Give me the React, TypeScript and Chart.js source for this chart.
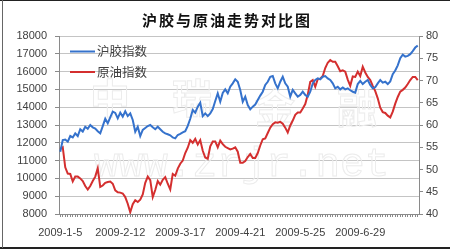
import React, { useEffect, useRef } from "react";
import { Chart, registerables } from "chart.js";

Chart.register(...registerables);

const chartTitle = "沪胶与原油走势对比图";
const seriesNames = ["沪胶指数", "原油指数"];
const seriesColors = ["#3572CC", "#D42F2F"];
const tickLabels = ["2009-1-5", "2009-2-12", "2009-3-17", "2009-4-21", "2009-5-25", "2009-6-29"];
const labelEvery = 24;
const watermarkChars = ["中", "瑞", "金", "融"];
const watermarkUrl = "www.zrjr.net";

// 沪胶指数 (left axis)
const rubberIndex = [
  11500, 12150, 12180, 12060, 12380, 12300, 12530, 12380, 12760, 12630,
  12900, 12790, 13000, 12870, 12800, 12650, 12530, 12940, 13350, 13100,
  13430, 13750, 13680, 13370, 13690, 13470, 13770, 13500, 13650, 13280,
  12620, 12900, 12380, 12720, 12830, 12940, 13000, 12870, 12760, 12900,
  12760, 12620, 12530, 12480, 12420, 12300, 12250, 12440, 12500, 12580,
  12650, 12950, 13350, 13840, 13690, 14030, 14250, 13500, 13650, 13500,
  13650, 13900, 14350, 14780, 14310, 14800, 15000, 14780, 15150, 15340,
  15570, 15430, 14970, 14310, 14590, 14120, 13880, 14030, 14150, 14400,
  14650, 14870, 15250, 15430, 15710, 15750, 15340, 15060, 15430, 15710,
  15340, 15150, 14590, 14970, 14780, 14590, 14690, 14870, 14690, 14590,
  14870, 15340, 15530, 15620, 15570, 15710, 15750, 15620, 15530, 15340,
  15060, 15150, 15000, 15110, 15000, 15060, 14950, 14870, 14820, 15300,
  15480, 15300, 15430, 15530, 15250, 15060, 15120, 15340, 15530, 15380,
  15430, 15300, 15450, 15850, 16060, 16350, 16750, 16950, 16840, 16880,
  16980, 17150, 17350, 17460,
];

// 原油指数 (right axis)
const crudeIndex = [
  54.6, 55.0, 50.5, 49.1, 49.0, 47.3, 48.4, 48.4, 48.0, 47.4,
  46.3, 45.5, 46.3, 47.4, 48.4, 50.3, 46.1, 46.4, 47.0, 47.2,
  47.3, 46.8, 45.3, 44.9, 44.8, 44.6, 43.8, 42.3, 40.4, 42.2,
  43.1, 42.7, 43.2, 44.4, 47.0, 48.4, 47.6, 43.8, 45.4, 47.4,
  46.6, 47.7, 48.3, 46.8, 45.5, 49.0, 48.6, 50.2, 51.3, 52.0,
  53.7, 54.9, 56.6, 56.0, 56.9, 55.6, 56.6, 54.2, 52.7, 52.4,
  55.2, 56.3, 56.3, 55.0, 56.5, 55.7, 55.1, 54.8, 54.5, 54.7,
  55.0, 54.0, 51.5, 51.5, 51.9, 52.8, 53.5, 52.6, 52.6, 53.7,
  55.4, 56.8, 57.0, 58.2, 59.4, 60.2, 60.6, 60.5, 60.7, 60.3,
  59.4, 58.3, 59.9, 61.0, 62.3, 62.8, 62.8, 63.7, 64.7, 66.8,
  69.7, 70.1, 68.6, 70.3, 70.4, 71.0, 72.8, 74.0, 74.6, 74.2,
  74.2, 73.2, 72.1, 72.3, 72.0, 70.2, 68.8, 70.9, 70.8, 72.0,
  71.0, 73.1, 71.8, 70.8, 70.1, 68.8, 67.6, 66.0, 63.9, 62.9,
  62.7, 62.1, 61.7, 63.0, 64.8, 66.3, 67.5, 67.9, 68.4, 69.2,
  70.1, 70.8, 70.8, 70.1,
];

const leftMin = 8000;
const leftMax = 18000;
const leftStep = 1000;
const rightMin = 40;
const rightMax = 80;
const rightStep = 5;

const tickFont = { family: "'Liberation Sans', Arial, sans-serif", size: 11 };
const axisColor = "#8a8a8a";
const gridColor = "#c4c4c4";
const textColor = "#404040";

const decorPlugin = {
  id: "decor",
  beforeDatasetsDraw(chart: any) {
    const ctx = chart.ctx as CanvasRenderingContext2D;
    ctx.save();
    ctx.strokeStyle = "#ececec";
    ctx.lineWidth = 1;
    ctx.textAlign = "center";
    ctx.textBaseline = "middle";
    ctx.font = "bold 40px 'Noto Sans CJK SC'";
    const cx = [110, 192, 275, 357];
    const cy = [98, 98, 108, 108];
    watermarkChars.forEach((ch, i) => ctx.strokeText(ch, cx[i], cy[i]));
    ctx.font = "41px 'Liberation Mono', monospace";
    ctx.textAlign = "left";
    ctx.textBaseline = "alphabetic";
    ctx.strokeText(watermarkUrl, 94, 176);
    ctx.restore();
  },
  afterDraw(chart: any) {
    const ctx = chart.ctx as CanvasRenderingContext2D;
    ctx.save();
    // title
    ctx.fillStyle = "#111";
    ctx.font = "bold 15px 'Noto Sans CJK SC'";
    (ctx as any).letterSpacing = "2px";
    ctx.textAlign = "center";
    ctx.textBaseline = "middle";
    ctx.fillText(chartTitle, 227, 20);
    (ctx as any).letterSpacing = "0px";
    // legend
    ctx.font = "12.5px 'Noto Sans CJK SC'";
    ctx.textAlign = "left";
    seriesNames.forEach((name, i) => {
      const y = 51.5 + i * 20.5;
      ctx.strokeStyle = seriesColors[i];
      ctx.lineWidth = 2;
      ctx.beginPath();
      ctx.moveTo(70, y);
      ctx.lineTo(95, y);
      ctx.stroke();
      ctx.fillStyle = textColor;
      ctx.fillText(name, 97, y);
    });
    // frame
    ctx.fillStyle = "#222";
    ctx.fillRect(0, 0, 450, 1);
    ctx.fillRect(0, 247, 450, 2);
    ctx.fillStyle = "#666";
    ctx.fillRect(2, 0, 1, 248);
    ctx.restore();
  },
};

export default function App() {
  const canvasRef = useRef<HTMLCanvasElement | null>(null);

  useEffect(() => {
    const canvas = canvasRef.current;
    if (!canvas) return;
    const categories = rubberIndex.map((_, i) =>
      i % labelEvery === 0 && tickLabels[i / labelEvery] ? tickLabels[i / labelEvery] : ""
    );
    const chart = new Chart(canvas, {
      type: "line",
      data: {
        labels: categories,
        datasets: [
          {
            label: seriesNames[0],
            data: rubberIndex,
            borderColor: seriesColors[0],
            backgroundColor: seriesColors[0],
            borderWidth: 2,
            pointRadius: 0,
            tension: 0,
            yAxisID: "y",
          },
          {
            label: seriesNames[1],
            data: crudeIndex,
            borderColor: seriesColors[1],
            backgroundColor: seriesColors[1],
            borderWidth: 2,
            pointRadius: 0,
            tension: 0,
            yAxisID: "y1",
          },
        ],
      },
      options: {
        animation: false,
        responsive: false,
        devicePixelRatio: 1,
        layout: { padding: { top: 36, left: 0, right: 0, bottom: 0 } },
        plugins: {
          legend: { display: false },
          title: { display: false },
          tooltip: { enabled: false },
        },
        scales: {
          x: {
            type: "category",
            offset: true,
            grid: {
              display: true,
              drawOnChartArea: false,
              drawTicks: true,
              tickLength: 3,
              color: axisColor,
            },
            border: { display: true, color: axisColor },
            ticks: {
              autoSkip: false,
              maxRotation: 0,
              minRotation: 0,
              padding: 9,
              color: textColor,
              font: tickFont,
            },
            afterFit: (s: any) => {
              s.height = 36;
            },
          },
          y: {
            position: "left",
            min: leftMin,
            max: leftMax,
            grid: { color: gridColor, tickLength: 4, tickColor: axisColor },
            border: { display: true, color: axisColor },
            ticks: {
              stepSize: leftStep,
              padding: 8,
              color: textColor,
              font: tickFont,
              callback: (v: any) => String(v),
            },
            afterFit: (s: any) => {
              s.width = 59;
            },
          },
          y1: {
            position: "right",
            min: rightMin,
            max: rightMax,
            grid: { drawOnChartArea: false, tickLength: 4, color: axisColor },
            border: { display: true, color: axisColor },
            ticks: {
              stepSize: rightStep,
              padding: 3,
              color: textColor,
              font: tickFont,
              callback: (v: any) => String(v),
            },
            afterFit: (s: any) => {
              s.width = 31;
            },
          },
        },
      },
      plugins: [decorPlugin],
    } as any);
    return () => chart.destroy();
  }, []);

  return (
    <div style={{ position: "fixed", left: 0, top: 0, width: 450, height: 250, background: "#fff" }}>
      <canvas ref={canvasRef} width={450} height={250} style={{ display: "block" }} />
    </div>
  );
}
